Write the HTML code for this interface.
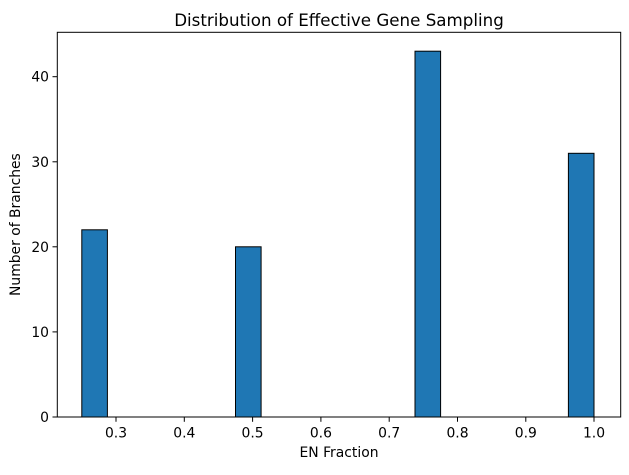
<!DOCTYPE html>
<html><head><style>body{margin:0;background:#fff}</style></head><body>
<svg width="629" height="470" xmlns="http://www.w3.org/2000/svg" font-family="DejaVu Sans, Liberation Sans, sans-serif">
<rect width="629" height="470" fill="#fff"/>
<g fill="#1f77b4" stroke="#000" stroke-width="1">
<rect x="81.8" y="229.8" width="25.6" height="187.2"/>
<rect x="235.5" y="246.8" width="25.6" height="170.2"/>
<rect x="415" y="51.2" width="25.6" height="365.8"/>
<rect x="568.4" y="153.3" width="25.6" height="263.7"/>
</g>
<rect x="57.3" y="32.3" width="563.4" height="384.7" fill="none" stroke="#000" stroke-width="1"/>
<g stroke="#000" stroke-width="1">
<line x1="116" y1="417" x2="116" y2="421.8"/><line x1="184.3" y1="417" x2="184.3" y2="421.8"/>
<line x1="252.6" y1="417" x2="252.6" y2="421.8"/><line x1="320.9" y1="417" x2="320.9" y2="421.8"/>
<line x1="389.2" y1="417" x2="389.2" y2="421.8"/><line x1="457.5" y1="417" x2="457.5" y2="421.8"/>
<line x1="525.8" y1="417" x2="525.8" y2="421.8"/><line x1="594" y1="417" x2="594" y2="421.8"/>
<line x1="52.5" y1="417" x2="57.3" y2="417"/><line x1="52.5" y1="331.9" x2="57.3" y2="331.9"/>
<line x1="52.5" y1="246.8" x2="57.3" y2="246.8"/><line x1="52.5" y1="161.8" x2="57.3" y2="161.8"/>
<line x1="52.5" y1="76.7" x2="57.3" y2="76.7"/>
</g>
<g font-size="13.9" text-anchor="middle" fill="#000">
<text x="116" y="437.5">0.3</text><text x="184.3" y="437.5">0.4</text><text x="252.6" y="437.5">0.5</text>
<text x="320.9" y="437.5">0.6</text><text x="389.2" y="437.5">0.7</text><text x="457.5" y="437.5">0.8</text>
<text x="525.8" y="437.5">0.9</text><text x="594" y="437.5">1.0</text>
</g>
<g font-size="13.9" text-anchor="end" fill="#000">
<text x="49" y="422">0</text><text x="49" y="336.9">10</text><text x="49" y="251.8">20</text>
<text x="49" y="166.8">30</text><text x="49" y="81.7">40</text>
</g>
<text x="339" y="457" font-size="13.9" text-anchor="middle">EN Fraction</text>
<text transform="translate(20,224.6) rotate(-90)" font-size="13.9" text-anchor="middle">Number of Branches</text>
<text x="339" y="26" font-size="16.7" text-anchor="middle">Distribution of Effective Gene Sampling</text>
</svg>
</body></html>
